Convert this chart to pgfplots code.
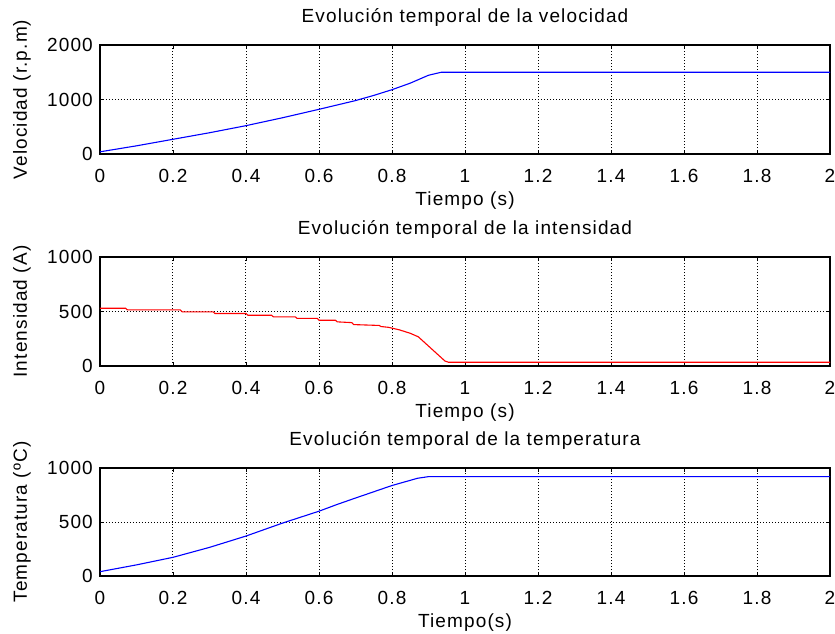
\documentclass[border=0pt]{standalone}
\usepackage{fontspec}
\setmainfont[LetterSpace=6]{Liberation Sans}
\usepackage{pgfplots}
\pgfplotsset{compat=1.18}
\pgfplotsset{
  matlab/.style={
    scale only axis, width=730bp,
    xmin=0, xmax=2,
    xtick={0,0.2,0.4,0.6,0.8,1,1.2,1.4,1.6,1.8,2},
    tick align=inside, major tick length=4bp,
    axis line style={line width=1.3bp}, 
    every tick/.style={black, line width=0.9bp},
    grid=major,
    major grid style={black, line width=1bp, dash pattern=on 1.2bp off 1.8bp},
    font=\fontsize{19bp}{22bp}\selectfont,
    /pgf/number format/assume math mode=true,
    /pgf/number format/1000 sep={},
    scaled ticks=false,
    xticklabel style={anchor=base, yshift=-28bp, inner sep=0pt},
    yticklabel style={anchor=east, xshift=-7bp, inner sep=0pt},
    title style={at={(axis description cs:0.5,1)}, anchor=base, yshift=17bp, inner sep=0pt},
    every axis y label/.style={at={(axis description cs:-0.1068,0.5)}, rotate=90, anchor=center},
    every axis x label/.style={at={(axis description cs:0.5,0)}, anchor=center, yshift=-47bp},
  }
}
\begin{document}
\fontsize{19bp}{22bp}\selectfont
\begin{tikzpicture}
\useasboundingbox (-100bp,-480bp) rectangle (735bp,154bp);
\begin{axis}[matlab, at={(0,0)}, anchor=south west, height=109bp,
  ymin=0, ymax=2000, ytick={0,1000,2000},
  title={Evolución temporal de la velocidad},
  xlabel={Tiempo (s)}, ylabel={Velocidad (r.p.m)}]
\addplot[color={rgb,255:red,0;green,0;blue,255}, line width=1.1bp] coordinates {
(0,40) (0.1,150) (0.2,270) (0.3,390) (0.4,520) (0.5,665) (0.6,820) (0.65,900)
(0.7,980) (0.75,1075) (0.8,1180) (0.85,1300) (0.9,1445) (0.935,1500) (2,1500)};
\end{axis}
\begin{axis}[matlab, at={(0,-212bp)}, anchor=south west, height=109bp,
  ymin=0, ymax=1000, ytick={0,500,1000},
  title={Evolución temporal de la intensidad},
  xlabel={Tiempo (s)}, ylabel={Intensidad (A)}]
\addplot[color={rgb,255:red,255;green,0;blue,0}, line width=1.1bp] coordinates {
(0,530) (0.07,530) (0.075,515) (0.22,515) (0.225,497) (0.31,497) (0.315,482)
(0.40,482) (0.405,466) (0.47,466) (0.475,451) (0.535,451) (0.54,437) (0.595,437)
(0.60,420) (0.645,420) (0.65,405) (0.69,398) (0.695,380) (0.765,372) (0.77,362)
(0.79,355) (0.82,332) (0.85,300) (0.872,268) (0.945,46) (0.955,34) (2,34)};
\end{axis}
\begin{axis}[matlab, at={(0,-422bp)}, anchor=south west, height=108bp,
  ymin=0, ymax=1000, ytick={0,500,1000},
  title={Evolución temporal de la temperatura},
  xlabel={Tiempo(s)}, ylabel={Temperatura (ºC)}]
\addplot[color={rgb,255:red,0;green,0;blue,255}, line width=1.1bp] coordinates {
(0,40) (0.1,103) (0.2,173) (0.3,265) (0.4,370) (0.5,490) (0.6,600) (0.65,663)
(0.7,722) (0.8,838) (0.87,905) (0.9,920) (2,920)};
\end{axis}
\end{tikzpicture}
\end{document}
